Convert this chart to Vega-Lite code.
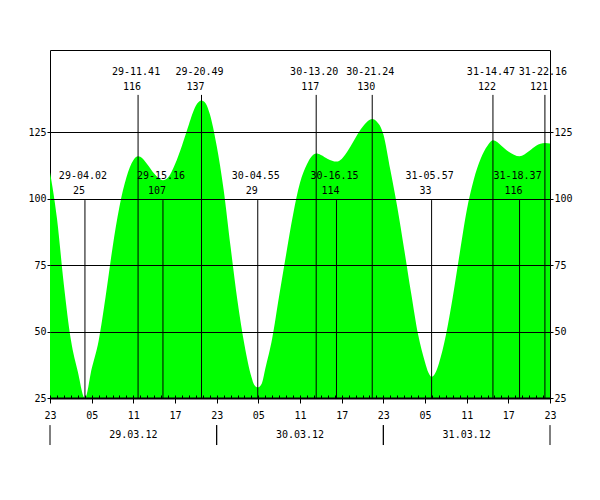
{
  "$schema": "https://vega.github.io/schema/vega-lite/v6.json",
  "width": 500,
  "height": 348,
  "autosize": "none",
  "padding": {"left": 50, "top": 50, "right": 50, "bottom": 102},
  "background": "white",
  "config": {
    "view": {"stroke": "black", "strokeWidth": 1},
    "font": "DejaVu Sans Mono",
    "axis": {
      "labelFont": "DejaVu Sans Mono",
      "labelFontSize": 10,
      "labelColor": "black",
      "tickColor": "black",
      "domainColor": "black",
      "gridColor": "black",
      "gridOpacity": 1,
      "gridWidth": 1,
      "tickWidth": 1,
      "title": null
    },
    "text": {"font": "DejaVu Sans Mono", "fontSize": 10, "color": "black"}
  },
  "datasets": {
    "tide": [
      {"h": 0, "level": 110}, {"h": 1, "level": 92.7}, {"h": 2, "level": 67.5}, {"h": 3, "level": 47},
      {"h": 4, "level": 35}, {"h": 5.03, "level": 25}, {"h": 6, "level": 36}, {"h": 7, "level": 46.5},
      {"h": 8, "level": 63}, {"h": 9, "level": 81.5}, {"h": 10, "level": 97}, {"h": 11, "level": 108},
      {"h": 12, "level": 114.5}, {"h": 12.68, "level": 116}, {"h": 13, "level": 115.8}, {"h": 14, "level": 113},
      {"h": 15, "level": 109.5}, {"h": 16.27, "level": 107}, {"h": 17, "level": 108}, {"h": 18, "level": 113},
      {"h": 19, "level": 120}, {"h": 20, "level": 128}, {"h": 21, "level": 135}, {"h": 21.82, "level": 137},
      {"h": 22.4, "level": 136}, {"h": 23, "level": 132}, {"h": 24, "level": 120}, {"h": 25, "level": 103.5},
      {"h": 26, "level": 82}, {"h": 27, "level": 61.5}, {"h": 28, "level": 45}, {"h": 29, "level": 33},
      {"h": 29.4, "level": 30}, {"h": 29.92, "level": 29}, {"h": 30.5, "level": 30.5}, {"h": 31, "level": 36},
      {"h": 32, "level": 47.5}, {"h": 33, "level": 63.5},
      {"h": 34, "level": 79}, {"h": 35, "level": 94}, {"h": 36, "level": 106}, {"h": 37, "level": 113},
      {"h": 38.33, "level": 117}, {"h": 39, "level": 116.5}, {"h": 40, "level": 115}, {"h": 41.25, "level": 114},
      {"h": 42, "level": 115}, {"h": 43, "level": 118.5}, {"h": 44, "level": 123}, {"h": 45, "level": 127},
      {"h": 46.4, "level": 130}, {"h": 47, "level": 129.2}, {"h": 48, "level": 124.3}, {"h": 49, "level": 111},
      {"h": 50, "level": 97}, {"h": 51, "level": 81}, {"h": 52, "level": 64.5}, {"h": 53, "level": 49},
      {"h": 54, "level": 38.5}, {"h": 54.5, "level": 34.5}, {"h": 54.95, "level": 33}, {"h": 55.5, "level": 34.5},
      {"h": 56, "level": 38}, {"h": 57, "level": 48.5},
      {"h": 58, "level": 63}, {"h": 59, "level": 79.5}, {"h": 60, "level": 95.5}, {"h": 61, "level": 107},
      {"h": 62, "level": 115}, {"h": 63, "level": 120}, {"h": 63.78, "level": 122}, {"h": 65, "level": 120},
      {"h": 66, "level": 117.8}, {"h": 67.62, "level": 116}, {"h": 69, "level": 118}, {"h": 70, "level": 120},
      {"h": 71.27, "level": 121}, {"h": 72, "level": 120.8}
    ],
    "events": [
      {"h": 5.033, "label": "29-04.02", "value": 25, "type": "low"},
      {"h": 12.683, "label": "29-11.41", "value": 116, "type": "high"},
      {"h": 16.267, "label": "29-15.16", "value": 107, "type": "low"},
      {"h": 21.817, "label": "29-20.49", "value": 137, "type": "high"},
      {"h": 29.917, "label": "30-04.55", "value": 29, "type": "low"},
      {"h": 38.333, "label": "30-13.20", "value": 117, "type": "high"},
      {"h": 41.25, "label": "30-16.15", "value": 114, "type": "low"},
      {"h": 46.4, "label": "30-21.24", "value": 130, "type": "high"},
      {"h": 54.95, "label": "31-05.57", "value": 33, "type": "low"},
      {"h": 63.783, "label": "31-14.47", "value": 122, "type": "high"},
      {"h": 67.617, "label": "31-18.37", "value": 116, "type": "low"},
      {"h": 71.267, "label": "31-22.16", "value": 121, "type": "high"}
    ],
    "days": [
      {"start": 0, "end": 24, "mid": 12, "label": "29.03.12"},
      {"start": 24, "end": 48, "mid": 36, "label": "30.03.12"},
      {"start": 48, "end": 72, "mid": 60, "label": "31.03.12"}
    ]
  },
  "layer": [
    {
      "data": {"name": "tide"},
      "mark": {"type": "area", "color": "#00ff00", "interpolate": "monotone", "opacity": 1},
      "encoding": {
        "x": {"field": "h", "type": "quantitative",
              "scale": {"domain": [0, 72], "nice": false, "zero": false},
              "axis": {"orient": "bottom", "values": [0, 6, 12, 18, 24, 30, 36, 42, 48, 54, 60, 66, 72],
                       "labelExpr": "pad(toString((datum.value + 23) % 24), 2, '0', 'left')",
                       "tickSize": 5, "labelPadding": 7, "domainWidth": 2, "grid": false, "labelFlush": false, "zindex": 1}},
        "y": {"field": "level", "type": "quantitative",
              "scale": {"domain": [25, 156], "nice": false, "zero": false},
              "axis": {"orient": "left", "values": [25, 50, 75, 100, 125], "grid": true, "tickSize": 3,
                       "labelPadding": 1, "domain": false, "zindex": 1, "labelFlush": false}},
        "y2": {"datum": 25}
      }
    },
    {
      "data": {"name": "events"},
      "transform": [{"filter": "datum.type == 'high'"}],
      "mark": {"type": "rule", "color": "black", "strokeWidth": 1},
      "encoding": {
        "x": {"field": "h", "type": "quantitative",
              "scale": {"domain": [0, 72], "nice": false, "zero": false},
              "axis": {"orient": "top", "offset": -348, "values": [0,1,2,3,4,5,6,7,8,9,10,11,12,13,14,15,16,17,18,19,20,21,22,23,24,25,26,27,28,29,30,31,32,33,34,35,36,37,38,39,40,41,42,43,44,45,46,47,48,49,50,51,52,53,54,55,56,57,58,59,60,61,62,63,64,65,66,67,68,69,70,71,72],
                       "tickSize": 3, "labels": false, "domain": false, "grid": false, "zindex": 1}},
        "y": {"datum": 139.1, "type": "quantitative",
              "scale": {"domain": [25, 156], "nice": false, "zero": false},
              "axis": {"orient": "right", "values": [25, 50, 75, 100, 125], "grid": false, "tickSize": 3,
                       "labelPadding": 1, "domain": false, "zindex": 1, "labelFlush": false}},
        "y2": {"datum": 25}
      }
    },
    {
      "data": {"name": "events"},
      "transform": [{"filter": "datum.type == 'low'"}],
      "mark": {"type": "rule", "color": "black", "strokeWidth": 1},
      "encoding": {
        "x": {"field": "h", "type": "quantitative", "scale": {"domain": [0, 72], "nice": false, "zero": false}, "axis": null},
        "y": {"datum": 99.5, "type": "quantitative", "scale": {"domain": [25, 156], "nice": false, "zero": false}, "axis": null},
        "y2": {"datum": 25}
      }
    },
    {
      "data": {"name": "events"},
      "transform": [{"filter": "datum.type == 'high'"}],
      "mark": {"type": "text", "baseline": "middle", "align": "center", "dx": -2},
      "encoding": {
        "x": {"field": "h", "type": "quantitative", "scale": {"domain": [0, 72], "nice": false, "zero": false}, "axis": null},
        "y": {"datum": 147.9, "type": "quantitative", "scale": {"domain": [25, 156], "nice": false, "zero": false}, "axis": null},
        "text": {"field": "label"}
      }
    },
    {
      "data": {"name": "events"},
      "transform": [{"filter": "datum.type == 'high'"}],
      "mark": {"type": "text", "baseline": "middle", "align": "center", "dx": -6},
      "encoding": {
        "x": {"field": "h", "type": "quantitative", "scale": {"domain": [0, 72], "nice": false, "zero": false}, "axis": null},
        "y": {"datum": 142.2, "type": "quantitative", "scale": {"domain": [25, 156], "nice": false, "zero": false}, "axis": null},
        "text": {"field": "value"}
      }
    },
    {
      "data": {"name": "events"},
      "transform": [{"filter": "datum.type == 'low'"}],
      "mark": {"type": "text", "baseline": "middle", "align": "center", "dx": -2},
      "encoding": {
        "x": {"field": "h", "type": "quantitative", "scale": {"domain": [0, 72], "nice": false, "zero": false}, "axis": null},
        "y": {"datum": 108.6, "type": "quantitative", "scale": {"domain": [25, 156], "nice": false, "zero": false}, "axis": null},
        "text": {"field": "label"}
      }
    },
    {
      "data": {"name": "events"},
      "transform": [{"filter": "datum.type == 'low'"}],
      "mark": {"type": "text", "baseline": "middle", "align": "center", "dx": -6},
      "encoding": {
        "x": {"field": "h", "type": "quantitative", "scale": {"domain": [0, 72], "nice": false, "zero": false}, "axis": null},
        "y": {"datum": 102.8, "type": "quantitative", "scale": {"domain": [25, 156], "nice": false, "zero": false}, "axis": null},
        "text": {"field": "value"}
      }
    },
    {
      "data": {"name": "days"},
      "mark": {"type": "rule", "color": "black", "strokeWidth": 1, "clip": false},
      "encoding": {
        "x": {"field": "start", "type": "quantitative", "scale": {"domain": [0, 72], "nice": false, "zero": false}, "axis": null},
        "y": {"datum": 14.8, "type": "quantitative", "scale": {"domain": [25, 156], "nice": false, "zero": false}, "axis": null},
        "y2": {"datum": 7.3}
      }
    },
    {
      "data": {"name": "days"},
      "mark": {"type": "rule", "color": "black", "strokeWidth": 1, "clip": false},
      "encoding": {
        "x": {"field": "end", "type": "quantitative", "scale": {"domain": [0, 72], "nice": false, "zero": false}, "axis": null},
        "y": {"datum": 14.8, "type": "quantitative", "scale": {"domain": [25, 156], "nice": false, "zero": false}, "axis": null},
        "y2": {"datum": 7.3}
      }
    },
    {
      "data": {"name": "days"},
      "mark": {"type": "text", "baseline": "middle", "align": "center", "clip": false},
      "encoding": {
        "x": {"field": "mid", "type": "quantitative", "scale": {"domain": [0, 72], "nice": false, "zero": false}, "axis": null},
        "y": {"datum": 11.2, "type": "quantitative", "scale": {"domain": [25, 156], "nice": false, "zero": false}, "axis": null},
        "text": {"field": "label"}
      }
    }
  ],
  "resolve": {"axis": {"x": "independent", "y": "independent"}}
}
